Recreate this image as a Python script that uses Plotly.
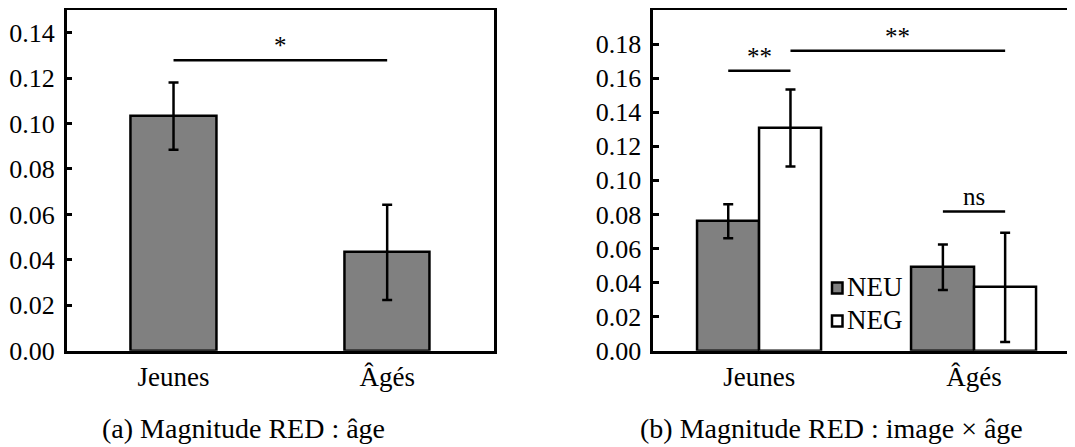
import plotly.graph_objects as go

# ---- data ----
groups = ["Jeunes", "Âgés"]

# (a) magnitude by age
age_mean = [0.1033, 0.0433]
age_err = [0.0148, 0.021]

# (b) magnitude by image x age
neu_mean = [0.076, 0.049]
neu_err = [0.010, 0.0134]
neg_mean = [0.1308, 0.0372]
neg_err = [0.0226, 0.0321]

series_names = ["NEU", "NEG"]

# significance brackets: (x0, x1, y, label)
bar_w = 0.29
brackets_a = [(0, 1, 0.1279, "*")]
brackets_b = [
    (-bar_w / 2, bar_w / 2, 0.1643, "**"),
    (bar_w / 2, 1 + bar_w / 2, 0.1761, "**"),
    (1 - bar_w / 2, 1 + bar_w / 2, 0.0817, "ns"),
]

FONT = "Liberation Serif"
GRAY = "#808080"
LW = 2.5
W, H = 1075, 447
OFF = 8  # default body margin of the html page


def px_x(p):
    # page pixel -> paper fraction
    return (p - OFF) / W


def px_y(p):
    return 1 - (p - OFF) / H


fig = go.Figure()

fig.add_trace(go.Bar(
    x=groups, y=age_mean, width=0.4,
    marker=dict(color=GRAY, line=dict(color="black", width=LW)),
    error_y=dict(type="data", array=age_err, color="black", thickness=LW, width=5),
    xaxis="x", yaxis="y", showlegend=False,
))

fig.add_trace(go.Bar(
    x=groups, y=neu_mean, width=bar_w, offset=-bar_w, name=series_names[0],
    marker=dict(color=GRAY, line=dict(color="black", width=LW)),
    error_y=dict(type="data", array=neu_err, color="black", thickness=LW, width=5),
    xaxis="x2", yaxis="y2", showlegend=False,
))
fig.add_trace(go.Bar(
    x=groups, y=neg_mean, width=bar_w, offset=0, name=series_names[1],
    marker=dict(color="white", line=dict(color="black", width=LW)),
    error_y=dict(type="data", array=neg_err, color="black", thickness=LW, width=5),
    xaxis="x2", yaxis="y2", showlegend=False,
))

shapes = []
annotations = []
for xr, yr, br in (("x", "y", brackets_a), ("x2", "y2", brackets_b)):
    for x0, x1, yv, lab in br:
        shapes.append(dict(type="line", xref=xr, yref=yr, x0=x0, x1=x1, y0=yv, y1=yv,
                           line=dict(color="black", width=LW)))
        annotations.append(dict(xref=xr, yref=yr, x=(x0 + x1) / 2, y=yv, text=lab,
                                showarrow=False, xanchor="center", yanchor="bottom",
                                yshift=-1 if lab != "ns" else 0,
                                font=dict(size=25, family=FONT, color="black")))

# hand-drawn legend (small squares + labels) inside panel (b)
legend_fill = [GRAY, "white"]
legend_y = [288, 321]
for name, fill, yc in zip(series_names, legend_fill, legend_y):
    shapes.append(dict(type="rect", xref="paper", yref="paper",
                       x0=px_x(832), x1=px_x(842.5), y0=px_y(yc + 5.5), y1=px_y(yc - 5.5),
                       fillcolor=fill, line=dict(color="black", width=LW)))
    annotations.append(dict(xref="paper", yref="paper", x=px_x(845), y=px_y(yc - 1),
                            text=name, showarrow=False, xanchor="left", yanchor="middle",
                            font=dict(size=27, family=FONT, color="black")))

annotations.append(dict(xref="paper", yref="paper", x=px_x(243), y=px_y(428),
                        text="(a) Magnitude RED : âge", showarrow=False,
                        xanchor="center", yanchor="middle",
                        font=dict(size=28, family=FONT, color="black")))
annotations.append(dict(xref="paper", yref="paper", x=px_x(831), y=px_y(428),
                        text="(b) Magnitude RED : image × âge", showarrow=False,
                        xanchor="center", yanchor="middle",
                        font=dict(size=28, family=FONT, color="black")))

axis_common = dict(showgrid=False, zeroline=False, showline=True, linecolor="black",
                   linewidth=LW, automargin=False)
x_common = dict(ticks="", ticklabelstandoff=0,
                tickfont=dict(size=27, family=FONT, color="black"))
y_common = dict(ticks="inside", ticklen=6, tickwidth=LW, tickcolor="black",
                tickformat=".2f", ticklabelstandoff=4,
                tickfont=dict(size=26, family=FONT, color="black"))

# panel (b) runs past the right edge of the picture
right_px = OFF + W
x2_lo, x2_hi = -0.494, (right_px - 759.3) / 214.7

fig.update_layout(
    width=W, height=H,
    margin=dict(l=0, r=0, t=0, b=0),
    plot_bgcolor="white", paper_bgcolor="white",
    font=dict(family=FONT, color="black"),
    showlegend=False,
    xaxis=dict(domain=[px_x(66.7), px_x(494)], range=[-0.5, 1.5], anchor="y",
               mirror=True, **x_common, **axis_common),
    yaxis=dict(domain=[px_y(350.7), px_y(10)], range=[0, 0.15], anchor="x",
               mirror=True, tickvals=[i * 0.02 for i in range(8)],
               **y_common, **axis_common),
    xaxis2=dict(domain=[px_x(653.3), 1.0], range=[x2_lo, x2_hi], anchor="y2",
                mirror=True, **x_common, **axis_common),
    yaxis2=dict(domain=[px_y(350.7), px_y(10)], range=[0, 0.2], anchor="x2",
                mirror=False, tickvals=[i * 0.02 for i in range(10)],
                **y_common, **axis_common),
    shapes=shapes,
    annotations=annotations,
    bargap=0,
)

fig.write_html("out.html")
